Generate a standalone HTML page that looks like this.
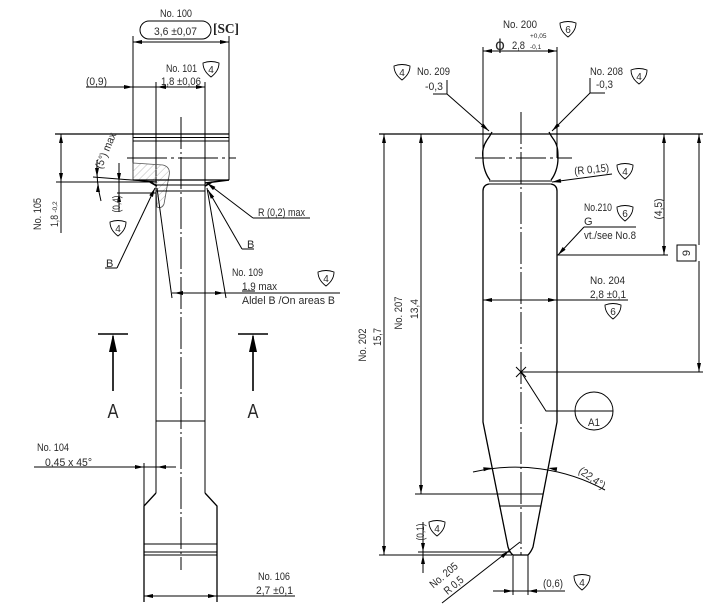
<!DOCTYPE html>
<html><head><meta charset="utf-8"><style>
html,body{margin:0;padding:0;background:#fff;}
svg{display:block;}
.t{font-family:"Liberation Sans Narrow","Liberation Sans",sans-serif;font-size:11px;fill:#2a2a2a;}
.s{font-family:"Liberation Sans Narrow","Liberation Sans",sans-serif;font-size:6.5px;fill:#2a2a2a;}
.n{font-family:"Liberation Sans Narrow","Liberation Sans",sans-serif;font-size:10px;fill:#2a2a2a;}
.l{stroke:#000;stroke-width:1;fill:none;}
.o{stroke:#000;stroke-width:1.3;fill:none;}
.c{stroke:#000;stroke-width:1;fill:none;stroke-dasharray:32 3 2 3;}
.a{fill:#000;stroke:none;}
</style></head><body>
<svg width="719" height="610" viewBox="0 0 719 610" xmlns="http://www.w3.org/2000/svg">
<defs>
<pattern id="h" width="5" height="5" patternUnits="userSpaceOnUse" patternTransform="rotate(45)">
<line x1="0" y1="0" x2="0" y2="5" stroke="#aaa" stroke-width="0.8"/>
</pattern>
<g id="bd"><path d="M-8,-6 Q0,-9 8,-6 Q8,2 0,8 Q-8,2 -8,-6 Z" stroke="#000" stroke-width="0.9" fill="#fff"/></g>
</defs>

<!-- ================= LEFT VIEW ================= -->
<text class="t" x="160" y="17" textLength="32" lengthAdjust="spacingAndGlyphs">No. 100</text>
<rect x="140" y="21" width="71" height="18" rx="9" class="l"/>
<text class="t" x="154" y="35" textLength="43" lengthAdjust="spacingAndGlyphs">3,6  ±0,07</text>
<text x="213" y="33" style="font-family:'Liberation Serif',serif;font-weight:bold;font-size:14px;fill:#222" textLength="26" lengthAdjust="spacingAndGlyphs">[SC]</text>
<line class="l" x1="133" y1="42" x2="229" y2="42"/>
<polygon class="a" points="133,42 142,40 142,44"/>
<polygon class="a" points="229,42 220,40 220,44"/>
<line class="l" x1="133" y1="36" x2="133" y2="180"/>
<line class="l" x1="229" y1="36" x2="229" y2="180"/>

<text class="t" x="166" y="72" textLength="31" lengthAdjust="spacingAndGlyphs">No. 101</text>
<use href="#bd" x="211" y="69"/><text class="n" x="211" y="73" text-anchor="middle">4</text>
<text class="t" x="161" y="85" textLength="40" lengthAdjust="spacingAndGlyphs">1,8  ±0,06</text>
<text class="t" x="86" y="85" textLength="21" lengthAdjust="spacingAndGlyphs">(0,9)</text>
<line class="l" x1="86" y1="87" x2="205" y2="87"/>
<polygon class="a" points="133,87 124,85 124,89"/>
<polygon class="a" points="157,87 166,85 166,89"/>
<polygon class="a" points="205,87 196,85 196,89"/>
<line class="l" x1="156" y1="82" x2="156" y2="493"/>
<line class="l" x1="205" y1="82" x2="205" y2="493"/>

<line class="o" x1="55" y1="134" x2="229" y2="134"/>
<line class="l" x1="133" y1="137.5" x2="229" y2="137.5"/>
<line class="l" x1="133" y1="141" x2="229" y2="141"/>
<line class="c" x1="127" y1="158" x2="236" y2="158" style="stroke-dasharray:40 4 3 4"/>
<path d="M133,163 L163,165 Q171,167 169,176 L164,204 Q162,209 157,207 L156,182 L133,180 Z" fill="url(#h)" stroke="#555" stroke-width="0.8"/>
<line class="o" x1="133" y1="180" x2="229" y2="180"/>
<line class="l" x1="56" y1="182" x2="156" y2="182"/>
<line class="l" x1="93" y1="177" x2="157" y2="182"/>
<line x1="205" y1="183" x2="229" y2="180" stroke="#000" stroke-width="1.6"/>
<line x1="150" y1="182" x2="157" y2="186" stroke="#000" stroke-width="1.6"/>
<line x1="212" y1="182" x2="205" y2="186" stroke="#000" stroke-width="1.6"/>
<line class="l" x1="156" y1="185" x2="205" y2="185"/>
<line class="l" x1="156" y1="191" x2="205" y2="191"/>

<path class="l" d="M97,160 Q96,182 101,201"/>
<polygon class="a" points="97,177 95,168 99,168"/>
<polygon class="a" points="98,183 96,192 100,192"/>
<text class="t" x="109" y="152" text-anchor="middle" transform="rotate(-67 109 152)" textLength="38" lengthAdjust="spacingAndGlyphs">(5°) max</text>

<line class="l" x1="119" y1="163" x2="119" y2="212"/>
<line class="l" x1="117" y1="193" x2="156" y2="193"/>
<polygon class="a" points="119,182 117,173 121,173"/>
<polygon class="a" points="119,193 117,202 121,202"/>
<text class="t" x="120" y="204" text-anchor="middle" transform="rotate(-90 120 204)" textLength="17" lengthAdjust="spacingAndGlyphs">(0,4)</text>
<use href="#bd" x="118" y="228"/><text class="n" x="118" y="232" text-anchor="middle">4</text>

<line class="l" x1="61" y1="134" x2="61" y2="233"/>
<polygon class="a" points="61,134 59,143 63,143"/>
<polygon class="a" points="61,182 59,173 63,173"/>
<text class="t" x="41" y="214" text-anchor="middle" transform="rotate(-90 41 214)" textLength="32" lengthAdjust="spacingAndGlyphs">No. 105</text>
<text class="t" x="58" y="221" text-anchor="middle" transform="rotate(-90 58 221)" textLength="12" lengthAdjust="spacingAndGlyphs">1,8</text>
<text class="s" x="57" y="207" text-anchor="middle" transform="rotate(-90 57 207)">-0,2</text>

<text class="t" x="106" y="267">B</text>
<line class="l" x1="105" y1="268" x2="117" y2="268"/>
<line class="l" x1="117" y1="268" x2="155" y2="188"/>
<polygon class="a" points="155,188 152.9,197 149.3,195.2"/>

<text class="t" x="258" y="216" textLength="47" lengthAdjust="spacingAndGlyphs">R (0,2) max</text>
<line class="l" x1="253" y1="218" x2="310" y2="218"/>
<line class="l" x1="253" y1="218" x2="207" y2="183"/>
<polygon class="a" points="207,183 215.4,186.9 213,190.1"/>

<text class="t" x="247" y="248">B</text>
<line class="l" x1="242" y1="249" x2="254" y2="249"/>
<line class="l" x1="242" y1="249" x2="208" y2="190"/>
<polygon class="a" points="208,190 214.2,196.8 210.8,198.8"/>

<line class="l" x1="157" y1="188" x2="172" y2="298"/>
<line class="l" x1="207" y1="188" x2="226" y2="298"/>
<text class="t" x="232" y="276" textLength="31" lengthAdjust="spacingAndGlyphs">No. 109</text>
<use href="#bd" x="326" y="278"/><text class="n" x="326" y="282" text-anchor="middle">4</text>
<text class="t" x="242" y="290" textLength="35" lengthAdjust="spacingAndGlyphs">1,9  max</text>
<line class="l" x1="242" y1="291" x2="255" y2="291"/>
<line class="l" x1="172" y1="293" x2="340" y2="293"/>
<polygon class="a" points="174,293 183,291 183,295"/>
<polygon class="a" points="224,293 215,291 215,295"/>
<text class="t" x="242" y="304" textLength="93" lengthAdjust="spacingAndGlyphs">Aldel B /On areas B</text>

<line class="l" x1="156" y1="421" x2="205" y2="421"/>
<polyline class="o" points="156,493 144,506 144,602"/>
<polyline class="o" points="205,493 217,506 217,602"/>
<line class="l" x1="144" y1="544" x2="217" y2="544"/>
<line class="l" x1="144" y1="552" x2="217" y2="552"/>
<line class="l" x1="144" y1="555" x2="217" y2="555"/>
<line class="c" x1="181" y1="117" x2="181" y2="570"/>

<line x1="98" y1="334" x2="128" y2="334" stroke="#000" stroke-width="1.6"/>
<line x1="113" y1="336" x2="113" y2="391" stroke="#000" stroke-width="1.6"/>
<polygon class="a" points="113,334 109,352 117,352"/>
<text x="113" y="418" text-anchor="middle" style="font-family:'Liberation Sans Narrow','Liberation Sans',sans-serif;font-size:20px;fill:#2a2a2a" textLength="11" lengthAdjust="spacingAndGlyphs">A</text>
<line x1="238" y1="334" x2="268" y2="334" stroke="#000" stroke-width="1.6"/>
<line x1="253" y1="336" x2="253" y2="391" stroke="#000" stroke-width="1.6"/>
<polygon class="a" points="253,334 249,352 257,352"/>
<text x="253" y="418" text-anchor="middle" style="font-family:'Liberation Sans Narrow','Liberation Sans',sans-serif;font-size:20px;fill:#2a2a2a" textLength="11" lengthAdjust="spacingAndGlyphs">A</text>

<text class="t" x="37" y="451" textLength="32" lengthAdjust="spacingAndGlyphs">No. 104</text>
<text class="t" x="45" y="466" textLength="47" lengthAdjust="spacingAndGlyphs">0,45  x 45°</text>
<line class="l" x1="34" y1="467" x2="176" y2="467"/>
<polygon class="a" points="144,467 135,465 135,469"/>
<polygon class="a" points="157,467 166,465 166,469"/>
<line class="l" x1="144" y1="463" x2="144" y2="506"/>

<text class="t" x="258" y="580" textLength="32" lengthAdjust="spacingAndGlyphs">No. 106</text>
<text class="t" x="256" y="594" textLength="37" lengthAdjust="spacingAndGlyphs">2,7  ±0,1</text>
<line class="l" x1="144" y1="596" x2="295" y2="596"/>
<polygon class="a" points="144,596 153,594 153,598"/>
<polygon class="a" points="217,596 208,594 208,598"/>

<!-- ================= RIGHT VIEW ================= -->
<text class="t" x="503" y="28" textLength="34" lengthAdjust="spacingAndGlyphs">No. 200</text>
<use href="#bd" x="568" y="29"/><text class="n" x="568" y="33" text-anchor="middle">6</text>
<text x="495" y="50" style="font-family:'DejaVu Sans',sans-serif;font-size:15px;fill:#2a2a2a" textLength="10" lengthAdjust="spacingAndGlyphs">ϕ</text>
<text class="t" x="512" y="49" textLength="13" lengthAdjust="spacingAndGlyphs">2,8</text>
<text class="s" x="530" y="38">+0,05</text>
<text class="s" x="530" y="49">-0,1</text>
<line class="l" x1="483" y1="51" x2="557" y2="51"/>
<polygon class="a" points="483,51 492,49 492,53"/>
<polygon class="a" points="557,51 548,49 548,53"/>
<line class="l" x1="483" y1="47" x2="483" y2="158"/>
<line class="l" x1="557" y1="47" x2="557" y2="158"/>

<use href="#bd" x="402" y="72"/><text class="n" x="402" y="76" text-anchor="middle">4</text>
<text class="t" x="417" y="75" textLength="33" lengthAdjust="spacingAndGlyphs">No. 209</text>
<text class="t" x="425" y="90" textLength="18" lengthAdjust="spacingAndGlyphs">-0,3</text>
<polyline class="l" points="433,94 447,94 447,80"/>
<line class="l" x1="447" y1="94" x2="489" y2="131"/>
<polygon class="a" points="489,131 480.9,126.6 483.5,123.6"/>

<text class="t" x="590" y="75" textLength="33" lengthAdjust="spacingAndGlyphs">No. 208</text>
<use href="#bd" x="639" y="76"/><text class="n" x="639" y="80" text-anchor="middle">4</text>
<text class="t" x="596" y="88" textLength="17" lengthAdjust="spacingAndGlyphs">-0,3</text>
<polyline class="l" points="590,78 590,93 605,93"/>
<line class="l" x1="590" y1="93" x2="552" y2="131"/>
<polygon class="a" points="552,131 559.8,126 557,123.2"/>

<line class="o" x1="379" y1="134" x2="703" y2="134"/>
<line class="c" x1="521" y1="112" x2="521" y2="555"/>
<line class="c" x1="475" y1="158" x2="572" y2="158" style="stroke-dasharray:30 4 3 4"/>

<path class="o" d="M492,132 Q490,136 487,140 C483,146 482,152 483,158 C483,167 486,175 490,180"/>
<path class="o" d="M549,132 Q551,136 554,140 C558,146 558,152 558,158 C558,167 555,175 551,180"/>
<line class="l" x1="489" y1="181" x2="552" y2="181"/>
<line class="l" x1="489" y1="184" x2="552" y2="184"/>
<path class="o" d="M489,184 Q483,185 483,191 L483,422 L508,547 Q510,553 513,555 L528,555 Q531,552 533,547 L557,422 L557,191 Q557,185 551,184"/>
<line class="l" x1="415" y1="494" x2="543" y2="494"/>
<line class="l" x1="499" y1="506" x2="541" y2="506"/>

<text class="t" x="592" y="173" text-anchor="middle" transform="rotate(-6 592 173)" textLength="35" lengthAdjust="spacingAndGlyphs">(R 0,15)</text>
<use href="#bd" x="625" y="171"/><text class="n" x="625" y="175" text-anchor="middle">4</text>
<line class="l" x1="612" y1="174" x2="552" y2="182"/>
<polygon class="a" points="552,182 561.2,182.8 560.6,178.8"/>

<text class="t" x="584" y="211" textLength="28" lengthAdjust="spacingAndGlyphs">No.210</text>
<use href="#bd" x="625" y="213"/><text class="n" x="625" y="217" text-anchor="middle">6</text>
<text class="t" x="584" y="225">G</text>
<line class="l" x1="584" y1="227" x2="636" y2="227"/>
<text class="t" x="584" y="239" textLength="52" lengthAdjust="spacingAndGlyphs">vt./see No.8</text>
<line class="l" x1="584" y1="227" x2="558" y2="255"/>
<polygon class="a" points="558,255 565.6,249.8 562.7,247"/>
<line class="l" x1="557" y1="255" x2="668" y2="255"/>

<line class="l" x1="664" y1="134" x2="664" y2="255"/>
<polygon class="a" points="664,134 662,143 666,143"/>
<polygon class="a" points="664,255 662,246 666,246"/>
<text class="t" x="662" y="209" text-anchor="middle" transform="rotate(-90 662 209)" textLength="21" lengthAdjust="spacingAndGlyphs">(4,5)</text>

<rect x="677" y="245" width="19" height="16" class="l"/>
<text class="t" x="690" y="253" text-anchor="middle" transform="rotate(-90 690 253)">9</text>
<line class="l" x1="699" y1="134" x2="699" y2="245"/>
<line class="l" x1="699" y1="261" x2="699" y2="372"/>
<polygon class="a" points="699,134 697,143 701,143"/>
<polygon class="a" points="699,372 697,363 701,363"/>
<line class="l" x1="521" y1="372" x2="703" y2="372"/>
<line class="l" x1="516" y1="367" x2="526" y2="377"/>
<line class="l" x1="516" y1="377" x2="526" y2="367"/>

<text class="t" x="590" y="284" textLength="35" lengthAdjust="spacingAndGlyphs">No. 204</text>
<text class="t" x="590" y="298" textLength="36" lengthAdjust="spacingAndGlyphs">2,8  ±0,1</text>
<line class="l" x1="483" y1="300" x2="628" y2="300"/>
<polygon class="a" points="483,300 492,298 492,302"/>
<polygon class="a" points="557,300 548,298 548,302"/>
<use href="#bd" x="613" y="311"/><text class="n" x="613" y="315" text-anchor="middle">6</text>

<polyline class="l" points="521,372 546,411 613,411"/>
<circle cx="594" cy="411" r="19" class="l"/>
<text class="t" x="594" y="426" text-anchor="middle" textLength="12" lengthAdjust="spacingAndGlyphs">A1</text>

<path class="l" d="M473,472 A187,187 0 0,1 605,490"/>
<polygon class="a" points="492,468 483.2,467.3 483.8,471.3"/>
<polygon class="a" points="548,468 556.6,471.3 557.2,467.3"/>
<text class="t" x="590" y="481" text-anchor="middle" transform="rotate(35 590 481)" textLength="30" lengthAdjust="spacingAndGlyphs">(22,4°)</text>

<line class="l" x1="384" y1="134" x2="384" y2="555"/>
<polygon class="a" points="384,134 382,143 386,143"/>
<polygon class="a" points="384,555 382,546 386,546"/>
<line class="l" x1="421" y1="134" x2="421" y2="494"/>
<polygon class="a" points="421,134 419,143 423,143"/>
<polygon class="a" points="421,494 419,485 423,485"/>
<text class="t" x="366" y="345" text-anchor="middle" transform="rotate(-90 366 345)" textLength="33" lengthAdjust="spacingAndGlyphs">No. 202</text>
<text class="t" x="381" y="337" text-anchor="middle" transform="rotate(-90 381 337)" textLength="18" lengthAdjust="spacingAndGlyphs">15,7</text>
<text class="t" x="402" y="313" text-anchor="middle" transform="rotate(-90 402 313)" textLength="33" lengthAdjust="spacingAndGlyphs">No. 207</text>
<text class="t" x="418" y="309" text-anchor="middle" transform="rotate(-90 418 309)" textLength="20" lengthAdjust="spacingAndGlyphs">13,4</text>
<line class="l" x1="379" y1="555" x2="512" y2="555"/>
<line class="l" x1="418" y1="552" x2="511" y2="552"/>

<line class="l" x1="423" y1="522" x2="423" y2="573"/>
<polygon class="a" points="423,552 421,543 425,543"/>
<polygon class="a" points="423,555 421,564 425,564"/>
<text class="t" x="424" y="532" text-anchor="middle" transform="rotate(-90 424 532)" textLength="17" lengthAdjust="spacingAndGlyphs">(0,1)</text>
<use href="#bd" x="437" y="528"/><text class="n" x="437" y="532" text-anchor="middle">4</text>

<line class="l" x1="442" y1="603" x2="520" y2="542"/>
<polygon class="a" points="509,551 503.1,558.1 500.7,554.9"/>
<text class="t" x="446" y="578" text-anchor="middle" transform="rotate(-40 446 578)" textLength="33" lengthAdjust="spacingAndGlyphs">No. 205</text>
<text class="t" x="456" y="588" text-anchor="middle" transform="rotate(-40 456 588)" textLength="22" lengthAdjust="spacingAndGlyphs">R 0,5</text>

<line class="l" x1="513" y1="555" x2="513" y2="595"/>
<line class="l" x1="528" y1="555" x2="528" y2="595"/>
<line class="l" x1="493" y1="591" x2="565" y2="591"/>
<polygon class="a" points="513,591 504,589 504,593"/>
<polygon class="a" points="528,591 537,589 537,593"/>
<text class="t" x="543" y="587" textLength="20" lengthAdjust="spacingAndGlyphs">(0,6)</text>
<use href="#bd" x="582" y="582"/><text class="n" x="582" y="586" text-anchor="middle">4</text>
</svg>
</body></html>
